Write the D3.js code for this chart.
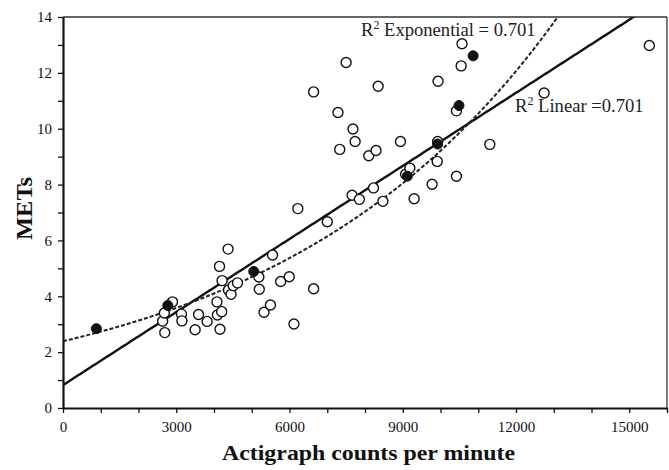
<!DOCTYPE html>
<html><head><meta charset="utf-8">
<script src="https://cdn.jsdelivr.net/npm/d3@7"></script>
<style>body{margin:0;background:#fff}svg{display:block}</style>
</head><body>
<svg id="c" width="669" height="470"></svg>
<script>
// Open circles (individual observations)
const openX = [2640,2685,2696,2900,3138,3150,3500,3591,3818,4078,4090,4146,4158,4203,4214,4373,4384,4452,4509,4622,5189,5200,5325,5495,5551,5766,5993,6118,6220,6639,6639,7001,7284,7330,7500,7658,7681,7738,7851,8100,8225,8293,8349,8474,8939,9075,9188,9301,9777,9913,9924,9935,10422,10422,10547,10570,11306,12745,15532];
const openY = [3.11,3.40,2.70,3.80,3.36,3.12,2.80,3.35,3.10,3.80,3.33,5.07,2.82,3.45,4.56,5.69,4.22,4.07,4.38,4.48,4.69,4.25,3.43,3.69,5.48,4.53,4.70,3.01,7.14,4.27,11.32,6.67,10.58,9.26,12.37,7.62,9.99,9.54,7.47,9.03,7.88,9.22,11.52,7.40,9.54,8.37,8.59,7.49,8.01,8.83,9.54,11.70,8.30,10.64,12.25,13.04,9.44,11.28,12.98];
// Filled circles
const fillX = [884,2776,5053,9120,9924,10490,10864];
const fillY = [2.84,3.67,4.89,8.30,9.45,10.83,12.61];
// Fit coefficients
const linIntercept = 0.82, linSlope = 0.000872;
const expA = 2.39, expB = 0.0001349;
const xTickLabels = [0,3000,6000,9000,12000,15000];
const yTickLabels = [0,2,4,6,8,10,12,14];

const svg = d3.select("#c");
const L=63, R=667, T=17, B=408;
const x = d3.scaleLinear().domain([0,16000]).range([L,R]);
const y = d3.scaleLinear().domain([0,14]).range([B,T]);
const font = "'Liberation Serif','Times New Roman',serif";

// frame top/right
svg.append("line").attr("x1",L).attr("x2",R).attr("y1",T).attr("y2",T).attr("stroke","#333").attr("stroke-width",1.3);
svg.append("line").attr("x1",R).attr("x2",R).attr("y1",T).attr("y2",B).attr("stroke","#333").attr("stroke-width",1.3);

// x axis
const xMinor = d3.range(0,16001,1000);
const gx = svg.append("g").attr("transform",`translate(0,${B})`);
gx.call(d3.axisBottom(x).tickValues(xMinor).tickSize(5).tickFormat(d=> xTickLabels.includes(d)? d : "").tickSizeOuter(0).tickPadding(8));
gx.select(".domain").attr("stroke","#111").attr("stroke-width",2.2);
gx.selectAll(".tick line").attr("stroke","#111").attr("stroke-width",1.3);
gx.selectAll("text").attr("font-family",font).attr("font-size",15).attr("fill","#111");

// y axis
const yMinor = d3.range(0,15,1);
const gy = svg.append("g").attr("transform",`translate(${L},0)`);
gy.call(d3.axisLeft(y).tickValues(yMinor).tickSize(5).tickFormat(d=> yTickLabels.includes(d)? d : "").tickSizeOuter(0).tickPadding(6));
gy.select(".domain").attr("stroke","#111").attr("stroke-width",2.2);
gy.selectAll(".tick line").attr("stroke","#111").attr("stroke-width",1.3);
gy.selectAll("text").attr("font-family",font).attr("font-size",15).attr("fill","#111");

// clip
svg.append("clipPath").attr("id","cp").append("rect").attr("x",L).attr("y",T).attr("width",R-L).attr("height",B-T);

// linear fit
const xs = d3.range(0,16001,50);
svg.append("path").attr("clip-path","url(#cp)")
  .attr("d", d3.line().x(d=>x(d)).y(d=>y(linIntercept+linSlope*d))(xs))
  .attr("fill","none").attr("stroke","#111").attr("stroke-width",2.4);
// exponential fit
svg.append("path").attr("clip-path","url(#cp)")
  .attr("d", d3.line().x(d=>x(d)).y(d=>y(expA*Math.exp(expB*d)))(xs))
  .attr("fill","none").attr("stroke","#222").attr("stroke-width",2).attr("stroke-dasharray","4,2");

// points
svg.append("g").selectAll("circle").data(openX.map((v,i)=>[v,openY[i]])).join("circle")
  .attr("cx",d=>x(d[0])).attr("cy",d=>y(d[1])).attr("r",5)
  .attr("fill","#fff").attr("stroke","#111").attr("stroke-width",1.4);
svg.append("g").selectAll("circle").data(fillX.map((v,i)=>[v,fillY[i]])).join("circle")
  .attr("cx",d=>x(d[0])).attr("cy",d=>y(d[1])).attr("r",5)
  .attr("fill","#111").attr("stroke","#111").attr("stroke-width",1);

// annotations
function ann(tx,ty,label){
  const t = svg.append("text").attr("x",tx).attr("y",ty).attr("font-family",font).attr("font-size",18.6).attr("fill","#222");
  t.append("tspan").text("R");
  t.append("tspan").attr("dy",-7.5).attr("font-size",12).text("2");
  t.append("tspan").attr("dy",7.5).text(label);
}
ann(361,36," Exponential = 0.701");
ann(515,112," Linear =0.701");

// axis titles
svg.append("text").attr("x",222).attr("y",460)
  .attr("font-family",font).attr("font-weight","bold").attr("font-size",22).attr("fill","#111")
  .attr("textLength",293).attr("lengthAdjust","spacingAndGlyphs")
  .text("Actigraph counts per minute");
svg.append("text").attr("transform","translate(32,240) rotate(-90)")
  .attr("font-family",font).attr("font-weight","bold").attr("font-size",24).attr("fill","#111")
  .attr("textLength",63).attr("lengthAdjust","spacingAndGlyphs")
  .text("METs");
</script>
</body></html>
